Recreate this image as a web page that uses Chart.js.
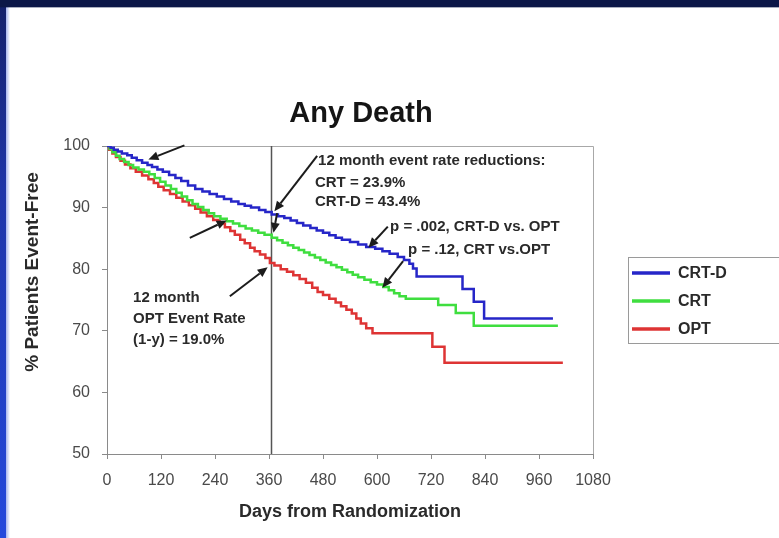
<!DOCTYPE html>
<html>
<head>
<meta charset="utf-8">
<script src="https://cdn.jsdelivr.net/npm/chart.js@4.4.1/dist/chart.umd.min.js"></script>
<style>
  html, body { margin: 0; padding: 0; background: #ffffff; overflow: hidden; }
  #wrap { width: 779px; height: 538px; position: relative; }
</style>
</head>
<body>
<div id="wrap"><canvas id="c" width="779" height="538"></canvas></div>
<script>
// Kaplan-Meier survival, all-cause death (days from randomization, % event-free)
const seriesNames = ['CRT-D', 'CRT', 'OPT'];

const crtdDays = [0, 8, 15, 24, 33, 45, 55, 66, 78, 90, 100, 112, 124, 138, 152, 165, 180, 196, 212, 228,
  244, 260, 276, 292, 306, 320, 338, 352, 366, 380, 394, 408, 422, 436, 452, 466, 480, 494, 508, 522,
  540, 558, 576, 596, 612, 628, 646, 660, 672, 680, 688, 790, 815, 838, 991];
const crtdPct = [100, 99.7, 99.4, 99.1, 98.8, 98.5, 98.1, 97.7, 97.3, 96.9, 96.6, 96.2, 95.8, 95.3, 94.8, 94.3, 93.6, 93.0, 92.6, 92.2,
  91.8, 91.4, 91.0, 90.6, 90.3, 90.0, 89.6, 89.3, 88.9, 88.6, 88.3, 87.9, 87.5, 87.1, 86.7, 86.3, 85.9, 85.5, 85.1, 84.8,
  84.4, 84.0, 83.6, 83.3, 82.9, 82.5, 82.0, 81.5, 80.9, 80.1, 78.8, 76.8, 74.7, 72.0, 72.0];

const crtDays = [0, 6, 12, 20, 28, 38, 48, 58, 70, 82, 94, 106, 118, 130, 142, 154, 166, 178, 190, 202,
  214, 226, 238, 252, 266, 280, 294, 308, 322, 336, 350, 366, 378, 390, 402, 414, 426, 438, 450, 462,
  474, 486, 498, 510, 522, 534, 546, 558, 572, 586, 600, 614, 626, 638, 650, 664, 736, 775, 815, 1002];
const crtPct = [100, 99.5, 99.0, 98.4, 97.9, 97.4, 96.9, 96.5, 96.2, 95.8, 95.4, 94.8, 94.2, 93.6, 93.0, 92.4, 91.8, 91.2, 90.6, 90.1,
  89.6, 89.1, 88.6, 88.2, 87.8, 87.4, 87.0, 86.6, 86.3, 85.9, 85.6, 85.1, 84.7, 84.3, 83.9, 83.5, 83.1, 82.7, 82.3, 81.9,
  81.5, 81.1, 80.7, 80.3, 79.9, 79.5, 79.1, 78.7, 78.3, 77.9, 77.5, 77.1, 76.6, 76.1, 75.6, 75.2, 74.2, 72.9, 70.8, 70.8];

const optDays = [0, 5, 12, 20, 30, 40, 52, 64, 78, 92, 104, 114, 126, 140, 154, 168, 182, 196, 208, 222,
  236, 250, 262, 274, 284, 296, 306, 318, 328, 340, 352, 362, 372, 386, 400, 414, 428, 442, 456, 468,
  480, 494, 508, 520, 532, 544, 554, 564, 576, 590, 723, 750, 1013];
const optPct = [100, 99.4, 98.8, 98.2, 97.6, 97.0, 96.4, 95.8, 95.2, 94.6, 94.0, 93.4, 92.8, 92.2, 91.6, 91.0, 90.4, 89.8, 89.2, 88.6,
  88.0, 87.4, 86.8, 86.2, 85.6, 84.8, 84.2, 83.5, 82.9, 82.4, 81.8, 81.0, 80.6, 80.0, 79.6, 79.0, 78.4, 77.8, 77.0, 76.3,
  75.8, 75.2, 74.6, 74.0, 73.4, 72.8, 72.0, 71.2, 70.4, 69.6, 67.4, 64.8, 64.8];

const xTickValues = [0, 120, 240, 360, 480, 600, 720, 840, 960, 1080];
const yTickValues = [50, 60, 70, 80, 90, 100];
const twelveMonthDay = 365;

const chartTitle = 'Any Death';
const xTitle = 'Days from Randomization';
const yTitle = '% Patients Event-Free';

// call-out text, anchored in data units (day, percent)
const notes = [
  { text: '12 month event rate reductions:', at: [469, 97.6] },
  { text: 'CRT = 23.9%', at: [462, 94.0] },
  { text: 'CRT-D = 43.4%', at: [462, 90.9] },
  { text: 'p = .002, CRT-D vs. OPT', at: [629, 86.9] },
  { text: 'p = .12, CRT vs.OPT', at: [669, 83.1] },
  { text: '12 month', at: [58, 75.3] },
  { text: 'OPT Event Rate', at: [58, 71.9] },
  { text: '(1-y) = 19.0%', at: [58, 68.5] }
];
// arrows: tail -> head, in data units
const arrows = [
  { from: [172, 100.1], to: [92, 97.8] },
  { from: [467, 98.4], to: [372, 89.4] },
  { from: [378, 89.1], to: [370, 85.9] },
  { from: [184, 85.1], to: [266, 87.9] },
  { from: [273, 75.6], to: [357, 80.3] },
  { from: [624, 86.9], to: [581, 83.5] },
  { from: [658, 81.3], to: [612, 77.0] }
];

const colors = ['#2626c8', '#3fde3f', '#de3434'];
const FONT = '"Liberation Sans", Arial, Helvetica, sans-serif';

function toPoints(days, pct) {
  return days.map((d, i) => ({ x: d, y: pct[i] }));
}

const frame = {
  id: 'frame',
  beforeDraw(chart) {
    const ctx = chart.ctx;
    ctx.save();
    ctx.fillStyle = '#ffffff';
    ctx.fillRect(0, 0, chart.width, chart.height);
    // slide border: navy band on top, blue band down the left side
    const g = ctx.createLinearGradient(0, 0, 0, chart.height);
    g.addColorStop(0, '#14206a');
    g.addColorStop(0.35, '#1f35a8');
    g.addColorStop(1, '#2448dc');
    ctx.fillStyle = g;
    ctx.fillRect(0, 0, 6, chart.height);
    const f = ctx.createLinearGradient(6, 0, 10, 0);
    f.addColorStop(0, 'rgba(60,90,220,0.45)');
    f.addColorStop(1, 'rgba(60,90,220,0)');
    ctx.fillStyle = f;
    ctx.fillRect(6, 6, 4, chart.height);
    ctx.fillStyle = '#0c1748';
    ctx.fillRect(0, 0, chart.width, 7);
    ctx.fillStyle = 'rgba(12,23,72,0.35)';
    ctx.fillRect(0, 7, chart.width, 1);

    // plot frame (top and right edges)
    const a = chart.chartArea;
    ctx.strokeStyle = '#a8a8a8';
    ctx.lineWidth = 1;
    ctx.beginPath();
    ctx.moveTo(a.left, a.top + 0.5);
    ctx.lineTo(a.right + 0.5, a.top + 0.5);
    ctx.lineTo(a.right + 0.5, a.bottom);
    ctx.stroke();

    // 12-month reference line
    const xs = chart.scales.x;
    const vx = Math.round(xs.getPixelForValue(twelveMonthDay)) + 0.5;
    ctx.strokeStyle = '#555555';
    ctx.lineWidth = 1.5;
    ctx.beginPath();
    ctx.moveTo(vx, a.top);
    ctx.lineTo(vx, a.bottom);
    ctx.stroke();
    ctx.restore();
  },
  afterDraw(chart) {
    const ctx = chart.ctx;
    const xs = chart.scales.x, ys = chart.scales.y;
    const a = chart.chartArea;
    ctx.save();

    // titles
    ctx.fillStyle = '#151515';
    ctx.font = 'bold 29px ' + FONT;
    ctx.textAlign = 'center';
    ctx.textBaseline = 'middle';
    ctx.fillText(chartTitle, 361, 114);

    ctx.fillStyle = '#2a2a2a';
    ctx.font = 'bold 18px ' + FONT;
    ctx.fillText(xTitle, (a.left + a.right) / 2, 512);

    ctx.save();
    ctx.translate(33, 272);
    ctx.rotate(-Math.PI / 2);
    ctx.font = 'bold 19px ' + FONT;
    ctx.fillText(yTitle, 0, 0);
    ctx.restore();

    // call-out text
    ctx.fillStyle = '#2a2a2a';
    ctx.font = 'bold 15px ' + FONT;
    ctx.textAlign = 'left';
    ctx.textBaseline = 'middle';
    notes.forEach(n => {
      ctx.fillText(n.text, xs.getPixelForValue(n.at[0]), ys.getPixelForValue(n.at[1]));
    });

    // arrows
    ctx.strokeStyle = '#1c1c1c';
    ctx.fillStyle = '#1c1c1c';
    ctx.lineWidth = 2;
    arrows.forEach(ar => {
      const x1 = xs.getPixelForValue(ar.from[0]), y1 = ys.getPixelForValue(ar.from[1]);
      const x2 = xs.getPixelForValue(ar.to[0]), y2 = ys.getPixelForValue(ar.to[1]);
      const ang = Math.atan2(y2 - y1, x2 - x1);
      const hl = 10, hw = 4.5;
      const bx = x2 - hl * Math.cos(ang), by = y2 - hl * Math.sin(ang);
      ctx.beginPath();
      ctx.moveTo(x1, y1);
      ctx.lineTo(bx, by);
      ctx.stroke();
      ctx.beginPath();
      ctx.moveTo(x2, y2);
      ctx.lineTo(bx + hw * Math.sin(ang), by - hw * Math.cos(ang));
      ctx.lineTo(bx - hw * Math.sin(ang), by + hw * Math.cos(ang));
      ctx.closePath();
      ctx.fill();
    });

    // legend box
    ctx.strokeStyle = '#9a9a9a';
    ctx.lineWidth = 1;
    ctx.strokeRect(628.5, 257.5, 200, 86);
    ctx.font = 'bold 16px ' + FONT;
    ctx.textAlign = 'left';
    ctx.textBaseline = 'middle';
    chart.data.datasets.forEach((ds, i) => {
      const y = 273 + i * 28;
      ctx.strokeStyle = ds.borderColor;
      ctx.lineWidth = 3.5;
      ctx.beginPath();
      ctx.moveTo(632, y);
      ctx.lineTo(670, y);
      ctx.stroke();
      ctx.fillStyle = '#2a2a2a';
      ctx.fillText(ds.label, 678, y + 1);
    });
    ctx.restore();
  }
};

const datasets = [
  { label: seriesNames[0], data: toPoints(crtdDays, crtdPct), borderColor: colors[0] },
  { label: seriesNames[1], data: toPoints(crtDays, crtPct), borderColor: colors[1] },
  { label: seriesNames[2], data: toPoints(optDays, optPct), borderColor: colors[2] }
].map(d => Object.assign(d, { stepped: 'before', fill: false, borderWidth: 2.5, pointRadius: 0 }));

new Chart(document.getElementById('c'), {
  type: 'line',
  data: { datasets },
  plugins: [frame],
  options: {
    responsive: false,
    animation: false,
    devicePixelRatio: 1,
    layout: { padding: { top: 146, right: 186, bottom: 0, left: 0 } },
    plugins: { legend: { display: false }, title: { display: false }, tooltip: { enabled: false } },
    scales: {
      x: {
        type: 'linear', min: 0, max: 1080,
        afterBuildTicks(s) { s.ticks = xTickValues.map(v => ({ value: v })); },
        afterFit(s) { s.height = 84; },
        ticks: { color: '#4a4a4a', font: { family: FONT, size: 16 }, padding: 12, maxRotation: 0, autoSkip: false,
                 callback: v => String(v) },
        grid: { drawOnChartArea: false, tickLength: 5, color: '#8a8a8a' },
        border: { color: '#8a8a8a', width: 1 }
      },
      y: {
        type: 'linear', min: 50, max: 100,
        afterBuildTicks(s) { s.ticks = yTickValues.map(v => ({ value: v })); },
        afterFit(s) { s.width = 107; },
        ticks: { color: '#4a4a4a', font: { family: FONT, size: 16 }, padding: 12, callback: v => String(v) },
        grid: { drawOnChartArea: false, tickLength: 5, color: '#8a8a8a' },
        border: { color: '#8a8a8a', width: 1 }
      }
    }
  }
});
</script>
</body>
</html>
